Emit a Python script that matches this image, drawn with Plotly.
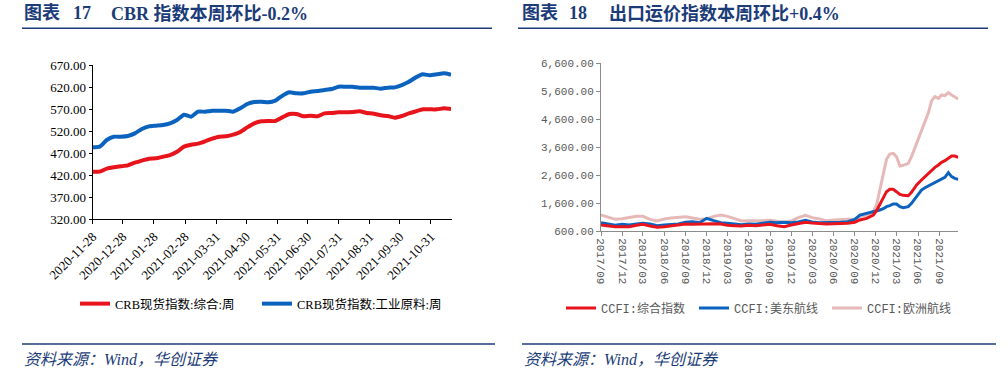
import plotly.graph_objects as go
import pandas as pd

W, H = 1008, 373

# ---------------- Left chart: CRB spot indices (weekly) ----------------
crb_dates = pd.date_range("2020-11-28", periods=52, freq="7D")
crb_composite = [427.6, 427.6, 434.4, 437.4, 439.7, 442.0, 448.0, 452.6, 457.1, 457.9,
                 461.6, 465.4, 473.0, 484.4, 488.9, 491.2, 496.5, 502.6, 507.1, 507.9,
                 511.6, 517.7, 528.3, 537.4, 542.0, 542.7, 542.7, 551.0, 558.6, 558.6,
                 553.3, 554.8, 553.3, 560.1, 560.9, 562.4, 562.4, 563.2, 564.7, 560.9,
                 559.4, 555.6, 554.1, 550.3, 554.1, 560.1, 564.7, 569.2, 569.2, 569.2,
                 571.5, 570.0]
crb_industrial = [482.9, 484.4, 499.5, 507.0, 507.0, 508.6, 514.7, 524.5, 530.6, 532.1,
                  533.6, 537.4, 545.0, 557.0, 552.5, 563.9, 563.9, 566.2, 566.2, 566.2,
                  563.9, 571.5, 581.3, 585.9, 586.6, 585.1, 588.9, 600.3, 607.9, 605.6,
                  605.6, 609.4, 610.9, 613.2, 615.4, 620.7, 620.7, 620.7, 618.5, 618.5,
                  618.5, 616.2, 618.5, 619.2, 624.5, 632.1, 641.9, 648.8, 646.5, 648.8,
                  651.0, 648.0]
crb_ticks = ["2020-11-28", "2020-12-28", "2021-01-28", "2021-02-28", "2021-03-31",
             "2021-04-30", "2021-05-31", "2021-06-30", "2021-07-31", "2021-08-31",
             "2021-09-30", "2021-10-31"]

# ---------------- Right chart: CCFI ----------------
ccfi_dates = [
    "2017-09-01", "2017-10-01", "2017-11-01", "2017-12-01", "2018-01-01", "2018-02-01",
    "2018-03-01", "2018-04-01", "2018-05-01", "2018-06-01", "2018-07-01", "2018-08-01",
    "2018-09-01", "2018-10-01", "2018-11-01", "2018-12-01", "2019-01-01", "2019-02-01",
    "2019-03-01", "2019-04-01", "2019-05-01", "2019-06-01", "2019-07-01", "2019-08-01",
    "2019-09-01", "2019-10-01", "2019-11-01", "2019-12-01", "2020-01-01", "2020-02-01",
    "2020-03-01", "2020-04-01", "2020-05-01", "2020-06-01", "2020-07-01", "2020-08-01",
    "2020-09-01",
    "2020-09-23", "2020-10-22", "2020-11-20", "2020-12-04", "2020-12-18", "2021-01-02",
    "2021-01-16", "2021-01-30", "2021-02-14", "2021-02-28", "2021-03-15", "2021-03-29",
    "2021-04-20", "2021-05-04", "2021-05-26", "2021-06-16", "2021-07-01", "2021-07-15",
    "2021-07-30", "2021-08-13", "2021-08-28", "2021-09-11", "2021-09-25", "2021-10-10",
    "2021-10-24", "2021-11-07", "2021-11-22"]
ccfi_composite = [
    815, 779, 755, 755, 755, 803, 839, 779, 731, 755, 779, 803, 850, 839, 850, 862, 862, 850,
    803, 791, 779, 803, 791, 815, 839, 790, 755, 815, 850, 910, 886, 862, 850, 862, 862, 874,
    910,
    994, 1053, 1172, 1328, 1566, 1805, 2007, 2091, 2091, 2007, 1912, 1876, 1864, 1984, 2246,
    2425, 2544, 2663, 2783, 2878, 2961, 3057, 3116, 3200, 3283, 3283, 3236]
ccfi_us_east = [
    898, 850, 803, 839, 815, 850, 874, 850, 791, 815, 827, 850, 910, 934, 898, 1053, 970, 898,
    874, 839, 827, 850, 839, 874, 910, 892, 910, 898, 922, 982, 922, 898, 898, 910, 910, 934,
    1017,
    1172, 1232, 1268, 1304, 1351, 1399, 1471, 1506, 1566, 1566, 1471, 1435, 1471, 1590, 1828,
    2067, 2150, 2210, 2282, 2329, 2401, 2449, 2520, 2687, 2544, 2484, 2449]
ccfi_europe = [
    1172, 1101, 1017, 1041, 1077, 1125, 1125, 1017, 958, 1029, 1065, 1101, 1113, 1065, 1017,
    1029, 1125, 1172, 1125, 1041, 958, 970, 958, 970, 982, 945, 910, 958, 1077, 1161, 1077,
    1029, 970, 994, 1017, 1017, 1029,
    1113, 1172, 1292, 1530, 2067, 2663, 3164, 3355, 3379, 3260, 2926, 2950, 3021, 3260, 3713,
    4214, 4452, 4810, 5263, 5406, 5347, 5466, 5442, 5549, 5466, 5406, 5323]
ccfi_tick_vals = ["2017-09-01", "2017-12-01", "2018-03-01", "2018-06-01", "2018-09-01",
                  "2018-12-01", "2019-03-01", "2019-06-01", "2019-09-01", "2019-12-01",
                  "2020-03-01", "2020-06-01", "2020-09-01", "2020-12-01", "2021-03-01",
                  "2021-06-01", "2021-09-01"]
ccfi_tick_text = ["2017/09", "2017/12", "2018/03", "2018/06", "2018/09", "2018/12",
                  "2019/03", "2019/06", "2019/09", "2019/12", "2020/03", "2020/06",
                  "2020/09", "2020/12", "2021/03", "2021/06", "2021/09"]

RED = "#E8141C"
BLUE = "#0B63BF"
PINK = "#E6B9B8"
NAVY = "#1B3C78"
GRAY = "#595959"
AXGRAY = "#8C8C8C"
SERIF = "Liberation Serif, Noto Sans CJK SC"
MONO = "Liberation Mono, Noto Sans CJK SC"


def px(x):
    return x / W


def py(y):
    return 1 - y / H


fig = go.Figure()

fig.add_trace(go.Scatter(x=crb_dates, y=crb_composite, mode="lines", name="CRB现货指数:综合:周",
                         line=dict(color=RED, width=4, shape="spline", smoothing=0.5),
                         xaxis="x", yaxis="y", legend="legend"))
fig.add_trace(go.Scatter(x=crb_dates, y=crb_industrial, mode="lines", name="CRB现货指数:工业原料:周",
                         line=dict(color=BLUE, width=4, shape="spline", smoothing=0.5),
                         xaxis="x", yaxis="y", legend="legend2"))

fig.add_trace(go.Scatter(x=ccfi_dates, y=ccfi_europe, mode="lines", name="CCFI:欧洲航线",
                         line=dict(color=PINK, width=3), xaxis="x2", yaxis="y2", legend="legend5"))
fig.add_trace(go.Scatter(x=ccfi_dates, y=ccfi_us_east, mode="lines", name="CCFI:美东航线",
                         line=dict(color=BLUE, width=3), xaxis="x2", yaxis="y2", legend="legend4"))
fig.add_trace(go.Scatter(x=ccfi_dates, y=ccfi_composite, mode="lines", name="CCFI:综合指数",
                         line=dict(color=RED, width=3), xaxis="x2", yaxis="y2", legend="legend3"))

left_font = dict(family=SERIF, size=13, color="black")
right_font = dict(family=MONO, size=11, color=GRAY)

legend_common = dict(orientation="h", xanchor="left", yanchor="middle",
                     bgcolor="rgba(0,0,0,0)", borderwidth=0)

fig.update_layout(
    template="none",
    width=W, height=H,
    margin=dict(l=0, r=0, t=0, b=0),
    paper_bgcolor="white", plot_bgcolor="white",
    showlegend=True,
    xaxis=dict(domain=[px(92.7), px(451.5)], anchor="y", type="date",
               range=["2020-11-28", "2021-11-20 12:00"],
               tickmode="array", tickvals=crb_ticks, ticktext=crb_ticks, tickangle=-45,
               ticks="outside", ticklen=4, tickcolor="black", showline=True,
               linecolor="black", linewidth=1, showgrid=False, zeroline=False,
               tickfont=left_font, automargin=False),
    yaxis=dict(domain=[py(219), py(65)], anchor="x", range=[320, 670],
               tick0=320, dtick=50, tickformat=".2f",
               ticks="outside", ticklen=3, tickcolor="black", showline=True,
               linecolor="black", linewidth=1, showgrid=False, zeroline=False,
               tickfont=left_font, automargin=False),
    xaxis2=dict(domain=[px(601), px(958.3)], anchor="y2", type="date",
                range=["2017-09-01", "2021-11-22"],
                tickmode="array", tickvals=ccfi_tick_vals, ticktext=ccfi_tick_text,
                tickangle=90, ticks="outside", ticklen=4, tickcolor=AXGRAY,
                showline=True, linecolor=AXGRAY, linewidth=1, showgrid=False,
                zeroline=False, tickfont=right_font, automargin=False),
    yaxis2=dict(domain=[py(231), py(63.3)], anchor="x2", range=[600, 6600],
                tick0=600, dtick=1000, tickformat=",.2f",
                ticks="outside", ticklen=4, tickcolor=AXGRAY, showline=True,
                linecolor=AXGRAY, linewidth=1, showgrid=False, zeroline=False,
                tickfont=right_font, automargin=False),
    legend=dict(x=px(75), y=py(304), font=dict(family=SERIF, size=12.5, color="black"),
                **legend_common),
    legend2=dict(x=px(257), y=py(304), font=dict(family=SERIF, size=12.5, color="black"),
                 **legend_common),
    legend3=dict(x=px(561), y=py(308), font=dict(family=MONO, size=12, color=GRAY),
                 **legend_common),
    legend4=dict(x=px(694), y=py(308), font=dict(family=MONO, size=12, color=GRAY),
                 **legend_common),
    legend5=dict(x=px(827), y=py(308), font=dict(family=MONO, size=12, color=GRAY),
                 **legend_common),
)

# Header / footer decorations
title_font = dict(family=SERIF, size=18, color=NAVY, weight="bold")
for txt, x in [("图表", 22), ("17", 71), ("CBR 指数本周环比-0.2%", 109),
               ("图表", 520), ("18", 567), ("出口运价指数本周环比+0.4%", 607)]:
    fig.add_annotation(text=txt, x=px(x), y=py(13), xref="paper", yref="paper",
                       xanchor="left", yanchor="middle", showarrow=False, font=title_font)

src_font = dict(family=SERIF, size=16, color=NAVY, style="italic")
for x in [22, 522]:
    fig.add_annotation(text="资料来源：Wind，华创证券", x=px(x), y=py(359), xref="paper",
                       yref="paper", xanchor="left", yanchor="middle", showarrow=False,
                       font=src_font)

for (x0, x1) in [(22, 492), (518, 988)]:
    fig.add_shape(type="line", xref="paper", yref="paper", x0=px(x0), x1=px(x1),
                  y0=py(28.3), y1=py(28.3), line=dict(color=NAVY, width=1.5))
for (x0, x1) in [(22, 495), (522, 996)]:
    fig.add_shape(type="line", xref="paper", yref="paper", x0=px(x0), x1=px(x1),
                  y0=py(344), y1=py(344), line=dict(color=NAVY, width=1.5))

fig.write_html("out.html",
               config={"displayModeBar": False},
               post_script="document.body.style.margin='0';document.body.style.overflow='hidden';")
